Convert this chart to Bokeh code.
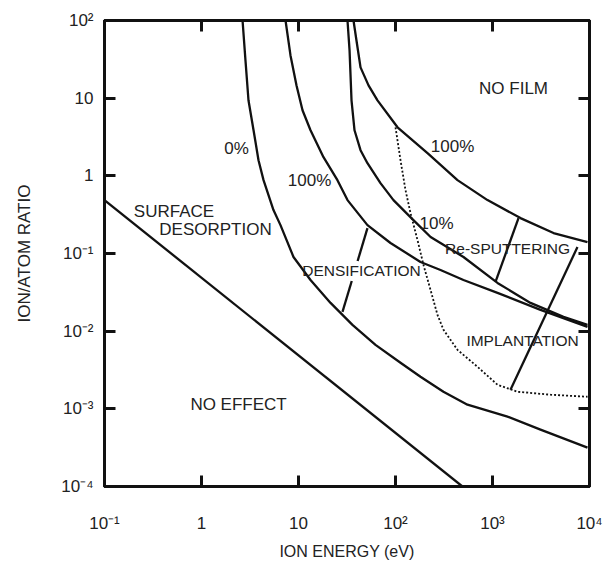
from bokeh.plotting import figure
from bokeh.models import LogAxis, FixedTicker, ColumnDataSource
from bokeh.embed import file_html
from bokeh.resources import INLINE
from bokeh.core.properties import value

# ---------------- data ----------------
x_ticks = [0.1, 1, 10, 100, 1000, 10000]
x_tick_labels = ["10⁻¹", "1", "10", "10²", "10³", "10⁴"]
y_ticks = [1e-4, 1e-3, 1e-2, 1e-1, 1, 10, 100]
y_tick_labels = ["10⁻⁴", "10⁻³", "10⁻²", "10⁻¹", "1", "10", "10²"]

# surface desorption / no effect boundary
desorp_energy = [0.1, 490]
desorp_ratio = [0.486, 1e-4]

# 0 % curve
c0_energy = [2.65, 2.84, 3.05, 3.44, 3.87, 4.36, 5.52, 6.52, 8.88, 13.3, 21.4, 36.0,
             62.2, 112.6, 181, 312, 552, 1428, 3125, 9537]
c0_ratio = [100, 30.6, 9.4, 3.86, 1.59, 0.88, 0.362, 0.232, 0.0902, 0.0456, 0.0231, 0.01205,
            0.00667, 0.00392, 0.00259, 0.00166, 0.00113, 0.000793, 0.00054, 0.000317]

# first 100 % curve
c100a_energy = [7.35, 8.27, 9.54, 11.0, 13.3, 18.1, 25.2, 32.0, 51.4, 88.8, 181, 291,
                502, 1126, 3125, 9537]
c100a_ratio = [100, 35.5, 14.6, 6.98, 3.86, 1.74, 0.88, 0.487, 0.232, 0.1365, 0.0778, 0.0614,
               0.0456, 0.0311, 0.0188, 0.01138]

# 10 % curve
c10_energy = [32.0, 33.6, 35.2, 37.8, 43.6, 51.4, 70.0, 95.3, 153, 230, 502, 1126, 2465, 5395, 9537]
c10_ratio = [100, 41.2, 9.38, 3.86, 2.14, 1.455, 0.805, 0.487, 0.269, 0.163, 0.0902, 0.0418,
             0.0231, 0.01527, 0.01205]

# second 100 % curve (no film boundary)
c100b_energy = [36.9, 39.6, 43.6, 52.7, 65.2, 104.9, 213.8, 435.5, 888, 1944, 4255, 9537]
c100b_ratio = [100, 55.3, 24.9, 14.6, 9.38, 4.22, 1.954, 0.88, 0.487, 0.2857, 0.1834, 0.1405]

# implantation boundary (dotted)
impl_energy = [100, 112.6, 126.8, 142.8, 168.6, 194.4, 229.6, 271, 312.6, 435.5, 700, 1126,
               1810, 3963, 9537]
impl_ratio = [4.22, 1.59, 0.655, 0.331, 0.149, 0.0711, 0.034, 0.0162, 0.0104, 0.00575, 0.00348,
              0.00204, 0.00166, 0.00152, 0.00143]

# straight region boundaries
dens_energy = [[51.4, 40.7], [35.4, 28.4]]
dens_ratio = [[0.2126, 0.080], [0.0443, 0.0177]]
sput_energy = [[1854, 1074], [7516, 1533]]
sput_ratio = [[0.2857, 0.0431], [0.1212, 0.00176]]

# region labels
big_text = ["0%", "100%", "100%", "10%", "NO FILM", "SURFACE", "DESORPTION", "NO EFFECT"]
big_energy = [2.30, 13.0, 387, 264.8, 1647, 0.5205, 1.394, 2.41]
big_ratio = [2.27, 0.88, 2.40, 0.2466, 13.4, 0.3463, 0.2064, 0.00113]

small_text = ["DENSIFICATION", "Re-SPUTTERING", "IMPLANTATION"]
small_energy = [44.6, 1428, 2039]
small_ratio = [0.0596, 0.1143, 0.0075]

# ---------------- figure ----------------
FONT = "Liberation Sans"
INK = "#111111"
TXT = "#222222"

p = figure(width=608, height=562, x_axis_type="log", y_axis_type="log",
           x_range=(0.1, 1e4), y_range=(1e-4, 1e2),
           output_backend="svg", toolbar_location=None,
           min_border_left=104, min_border_right=19, min_border_top=20, min_border_bottom=75)

p.background_fill_color = "white"
p.border_fill_color = "white"
p.grid.visible = False
p.outline_line_color = INK
p.outline_line_width = 3

for ax in (p.xaxis[0], p.yaxis[0]):
    ax.major_tick_in = 11
    ax.major_tick_out = 0
    ax.minor_tick_line_color = None
    ax.major_tick_line_width = 3
    ax.major_tick_line_color = INK
    ax.axis_line_width = 3
    ax.axis_line_color = INK
    ax.major_label_text_font = FONT
    ax.major_label_text_font_size = "17px"
    ax.major_label_text_color = TXT
    ax.axis_label_text_font = FONT
    ax.axis_label_text_font_style = "normal"
    ax.axis_label_text_color = TXT

p.xaxis.ticker = FixedTicker(ticks=x_ticks, minor_ticks=[])
p.yaxis.ticker = FixedTicker(ticks=y_ticks, minor_ticks=[])
p.xaxis.major_label_overrides = dict(zip(x_ticks, x_tick_labels))
p.yaxis.major_label_overrides = dict(zip(y_ticks, y_tick_labels))

p.xaxis.axis_label = "ION ENERGY (eV)"
p.xaxis.axis_label_text_font_size = "16px"
p.xaxis.major_label_standoff = 27
p.xaxis.axis_label_standoff = 7

p.yaxis.axis_label = "ION/ATOM RATIO"
p.yaxis.axis_label_text_font_size = "17px"
p.yaxis.major_label_standoff = 11
p.yaxis.axis_label_standoff = 24

def frame_axis(ticks):
    return LogAxis(ticker=FixedTicker(ticks=ticks, minor_ticks=[]),
                   major_label_text_font_size="1px", major_label_text_color=None,
                   major_label_standoff=0,
                   major_tick_in=11, major_tick_out=0, major_tick_line_width=3,
                   major_tick_line_color=INK, minor_tick_line_color=None,
                   axis_line_width=3, axis_line_color=INK)

p.add_layout(frame_axis(x_ticks), "above")
p.add_layout(frame_axis(y_ticks), "right")

LW = 2.3
p.line(desorp_energy, desorp_ratio, line_color=INK, line_width=LW)
p.line(c0_energy, c0_ratio, line_color=INK, line_width=LW, line_join="round")
p.line(c100a_energy, c100a_ratio, line_color=INK, line_width=LW, line_join="round")
p.line(c10_energy, c10_ratio, line_color=INK, line_width=LW, line_join="round")
p.line(c100b_energy, c100b_ratio, line_color=INK, line_width=LW, line_join="round")
p.line(impl_energy, impl_ratio, line_color=INK, line_width=1.8, line_dash="2 2")
p.multi_line(dens_energy, dens_ratio, line_color=INK, line_width=LW)
p.multi_line(sput_energy, sput_ratio, line_color=INK, line_width=LW)

big_src = ColumnDataSource(dict(x=big_energy, y=big_ratio, t=big_text))
p.text(x="x", y="y", text="t", source=big_src, text_align="center", text_baseline="middle",
       text_font=value(FONT), text_font_size="17px", text_color=TXT)
small_src = ColumnDataSource(dict(x=small_energy, y=small_ratio, t=small_text))
p.text(x="x", y="y", text="t", source=small_src, text_align="center", text_baseline="middle",
       text_font=value(FONT), text_font_size="15.5px", text_color=TXT)

open("out.html", "w").write(file_html(p, INLINE))
